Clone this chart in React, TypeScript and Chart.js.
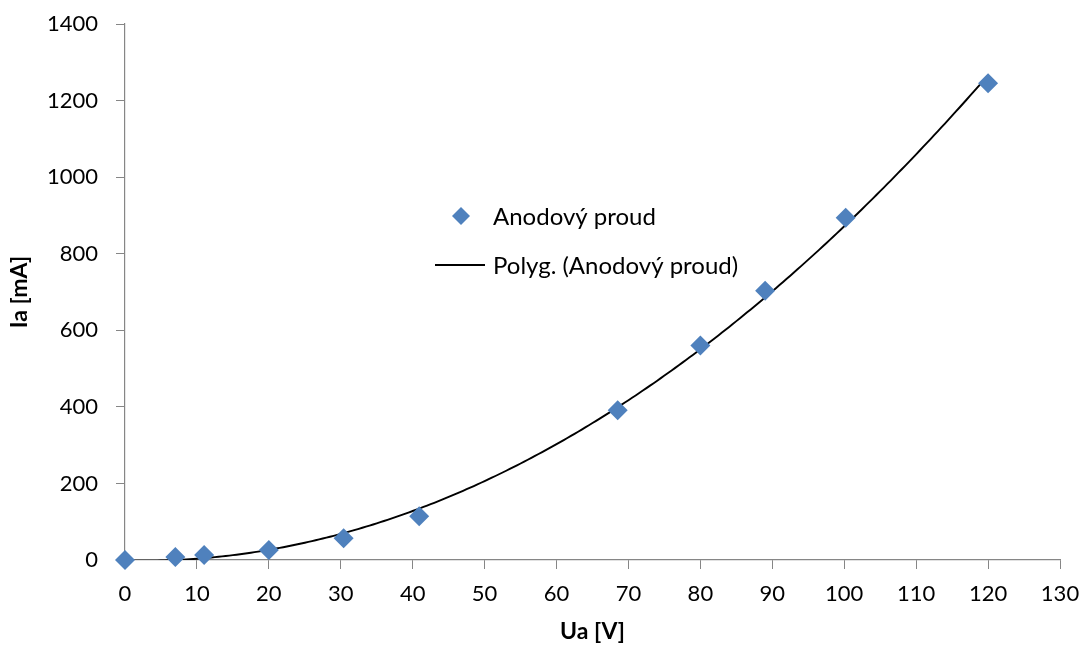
import React, { useEffect, useRef } from "react";
import { Chart, registerables } from "chart.js";

Chart.register(...registerables);

const uaValues: number[] = [0, 7, 11, 20, 30.4, 40.9, 68.5, 80, 89, 100.2, 120];
const iaValues: number[] = [0, 8, 13, 26, 57, 114, 391, 560, 703, 894, 1245];
const xTicks: number[] = [0, 10, 20, 30, 40, 50, 60, 70, 80, 90, 100, 110, 120, 130];
const yTicks: number[] = [0, 200, 400, 600, 800, 1000, 1200, 1400];
const seriesLabel = "Anodový proud";
const trendLabel = "Polyg. (Anodový proud)";
const xTitle = "Ua [V]";
const yTitle = "Ia [mA]";

// least squares quadratic fit (Excel polynomial trendline, order 2)
function quadFit(xs: number[], ys: number[]): [number, number, number] {
  let s0 = 0, s1 = 0, s2 = 0, s3 = 0, s4 = 0, t0 = 0, t1 = 0, t2 = 0;
  for (let i = 0; i < xs.length; i++) {
    const x = xs[i], y = ys[i];
    s0 += 1; s1 += x; s2 += x * x; s3 += x * x * x; s4 += x * x * x * x;
    t0 += y; t1 += x * y; t2 += x * x * y;
  }
  const M = [
    [s0, s1, s2, t0],
    [s1, s2, s3, t1],
    [s2, s3, s4, t2],
  ];
  for (let c = 0; c < 3; c++) {
    let p = c;
    for (let r = c + 1; r < 3; r++) if (Math.abs(M[r][c]) > Math.abs(M[p][c])) p = r;
    [M[c], M[p]] = [M[p], M[c]];
    for (let r = 0; r < 3; r++) {
      if (r === c) continue;
      const f = M[r][c] / M[c][c];
      for (let k = c; k < 4; k++) M[r][k] -= f * M[c][k];
    }
  }
  return [M[0][3] / M[0][0], M[1][3] / M[1][1], M[2][3] / M[2][2]];
}

const FONT = "Lato, 'Open Sans', sans-serif";
const MARKER = "#4F81BD";

export default function App() {
  const ref = useRef<HTMLCanvasElement | null>(null);
  useEffect(() => {
    document.body.style.margin = "0";
    const [a0, a1, a2] = quadFit(uaValues, iaValues);
    const xmin = Math.min(...uaValues), xmax = Math.max(...uaValues);
    const trend: { x: number; y: number }[] = [];
    const n = 240;
    for (let i = 0; i <= n; i++) {
      const x = xmin + ((xmax - xmin) * i) / n;
      trend.push({ x, y: a0 + a1 * x + a2 * x * x });
    }
    const scatter = uaValues.map((x, i) => ({ x, y: iaValues[i] }));

    const legendPlugin = {
      id: "customLegend",
      afterDraw(chart: any) {
        const ctx = chart.ctx;
        ctx.save();
        ctx.font = `24px ${FONT}`;
        ctx.fillStyle = "#000";
        ctx.textBaseline = "middle";
        ctx.textAlign = "left";
        const mx = 461, my = 216, r = 9;
        ctx.beginPath();
        ctx.moveTo(mx, my - r);
        ctx.lineTo(mx + r, my);
        ctx.lineTo(mx, my + r);
        ctx.lineTo(mx - r, my);
        ctx.closePath();
        ctx.fillStyle = MARKER;
        ctx.fill();
        ctx.fillStyle = "#000";
        ctx.fillText(seriesLabel, 493, 217);
        ctx.beginPath();
        ctx.moveTo(435, 265);
        ctx.lineTo(485, 265);
        ctx.strokeStyle = "#000";
        ctx.lineWidth = 1.8;
        ctx.stroke();
        ctx.fillText(trendLabel, 493, 266);
        ctx.restore();
      },
    };

    const chart = new Chart(ref.current as HTMLCanvasElement, {
      type: "scatter",
      data: {
        datasets: [
          {
            type: "line",
            label: trendLabel,
            data: trend,
            borderColor: "#000",
            borderWidth: 1.9,
            pointRadius: 0,
            fill: false,
            tension: 0,
            order: 2,
          } as any,
          {
            type: "scatter",
            label: seriesLabel,
            data: scatter,
            pointStyle: "rectRot",
            pointRadius: 10,
            backgroundColor: MARKER,
            borderColor: MARKER,
            borderWidth: 0,
            order: 1,
            clip: false,
          } as any,
        ],
      },
      plugins: [legendPlugin],
      options: {
        animation: false,
        responsive: false,
        devicePixelRatio: 1,
        layout: { padding: { top: 24, right: 22, left: 6, bottom: 0 } },
        plugins: { legend: { display: false }, tooltip: { enabled: false } },
        scales: {
          x: {
            type: "linear",
            min: 0,
            max: 130,
            afterBuildTicks: (s: any) => {
              s.ticks = xTicks.map((v) => ({ value: v }));
            },
            afterFit: (s: any) => {
              s.height = 88;
              s.paddingLeft = 0;
              s.paddingRight = 0;
              s.paddingTop = 0;
              s.paddingBottom = 0;
            },
            ticks: {
              color: "#000",
              font: { size: 22, family: FONT },
              padding: 12,
              maxRotation: 0,
              callback: (v: any) => String(v),
            },
            grid: { drawOnChartArea: false, color: "#868686", tickLength: 9, tickColor: "#868686" },
            border: { color: "#868686", width: 1.2 },
            title: {
              display: true,
              text: xTitle,
              color: "#000",
              font: { size: 23, weight: "bold", family: FONT },
              padding: { top: 4, bottom: 3 },
            },
          },
          y: {
            type: "linear",
            min: 0,
            max: 1400,
            afterBuildTicks: (s: any) => {
              s.ticks = yTicks.map((v) => ({ value: v }));
            },
            afterFit: (s: any) => {
              s.width = 119;
              s.paddingLeft = 0;
              s.paddingRight = 0;
              s.paddingTop = 0;
              s.paddingBottom = 0;
            },
            ticks: {
              color: "#000",
              font: { size: 22, family: FONT },
              padding: 18,
              callback: (v: any) => String(v),
            },
            grid: { drawOnChartArea: false, color: "#868686", tickLength: 9, tickColor: "#868686" },
            border: { color: "#868686", width: 1.2 },
            title: {
              display: true,
              text: yTitle,
              color: "#000",
              font: { size: 23, weight: "bold", family: FONT },
              padding: { top: 0, bottom: 0 },
            },
          },
        },
      } as any,
    });
    return () => chart.destroy();
  }, []);

  return (
    <div style={{ width: 1082, height: 648 }}>
      <canvas ref={ref} width={1082} height={648} style={{ display: "block" }} />
    </div>
  );
}
